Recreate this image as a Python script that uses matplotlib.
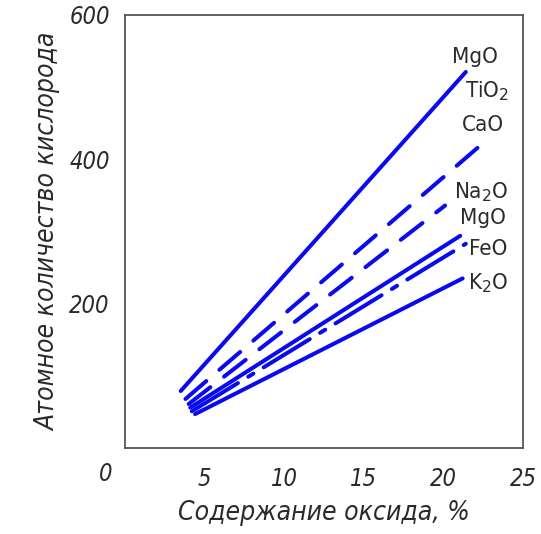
import numpy as np
import matplotlib
matplotlib.use("Agg")
import matplotlib.pyplot as plt

# data: start / end point of each line
x_start = [3.5, 3.8, 4.0, 4.1, 4.2, 4.4]
y_start = [79, 68, 61, 56, 51, 47]
x_end = [21.4, 22.3, 20.1, 21.05, 21.4, 21.2]
y_end = [521, 419, 336, 294, 283, 235]
styles = ["solid", "dash", "dash", "solid", "dashdot", "solid"]

labels = ["MgO", "TiO$_2$", "CaO", "Na$_2$O", "MgO", "FeO", "K$_2$O"]
label_x = [22.0, 22.75, 22.5, 22.35, 22.5, 22.8, 22.8]
label_y = [542, 494, 447, 354, 319, 276, 229]

xticks = [5, 10, 15, 20, 25]
yticks = [200, 400, 600]

blue = "#0a0af0"
txt = "#2a2a2a"
font = dict(family="DejaVu Sans", style="oblique", stretch="condensed")

fig = plt.figure(figsize=(5.41, 5.34), dpi=100)
ax = fig.add_axes([0.231, 0.161, 0.736, 0.811])

for i in range(len(x_start)):
    xs = [x_start[i], x_end[i]]
    ys = [y_start[i], y_end[i]]
    line, = ax.plot(xs, ys, color=blue, lw=2.9, solid_capstyle="round",
                    dash_capstyle="round")
    if styles[i] == "dash":
        line.set_dashes((6.8, 4.3))
    elif styles[i] == "dashdot":
        line.set_dashes((13.4, 3.0, 1.5, 3.0))

# oxide labels are upright in the original
for lab, lx, ly in zip(labels, label_x, label_y):
    ax.text(lx, ly, lab, ha="center", va="center", fontsize=16, color=txt,
            family="DejaVu Sans", stretch="condensed")

ax.set_xlim(0, 25)
ax.set_ylim(0, 600)

ax.set_xticks(xticks)
ax.set_xticklabels([str(v) for v in xticks], fontsize=17, color=txt, **font)
ax.set_yticks(yticks)
ax.set_yticklabels([str(v) for v in yticks], fontsize=17, color=txt, **font)
ax.tick_params(which="major", length=0, pad=11)
ax.tick_params(axis="x", which="major", pad=14)
ax.text(-1.2, -36, "0", ha="center", va="center", fontsize=17, color=txt,
        clip_on=False, **font)

ax.set_xticks([5, 10, 15, 20], minor=True)
ax.set_yticks([200, 400], minor=True)
ax.tick_params(which="minor", direction="in", length=11.5, width=3, color=blue)

for s in ax.spines.values():
    s.set_color("#555555")
    s.set_linewidth(1.3)

ax.set_xlabel("Содержание оксида, %", fontsize=19, color=txt, labelpad=6, **font)
ax.set_ylabel("Атомное количество кислорода", fontsize=19, color=txt, labelpad=6, **font)

fig.savefig("out.png", dpi=100)
